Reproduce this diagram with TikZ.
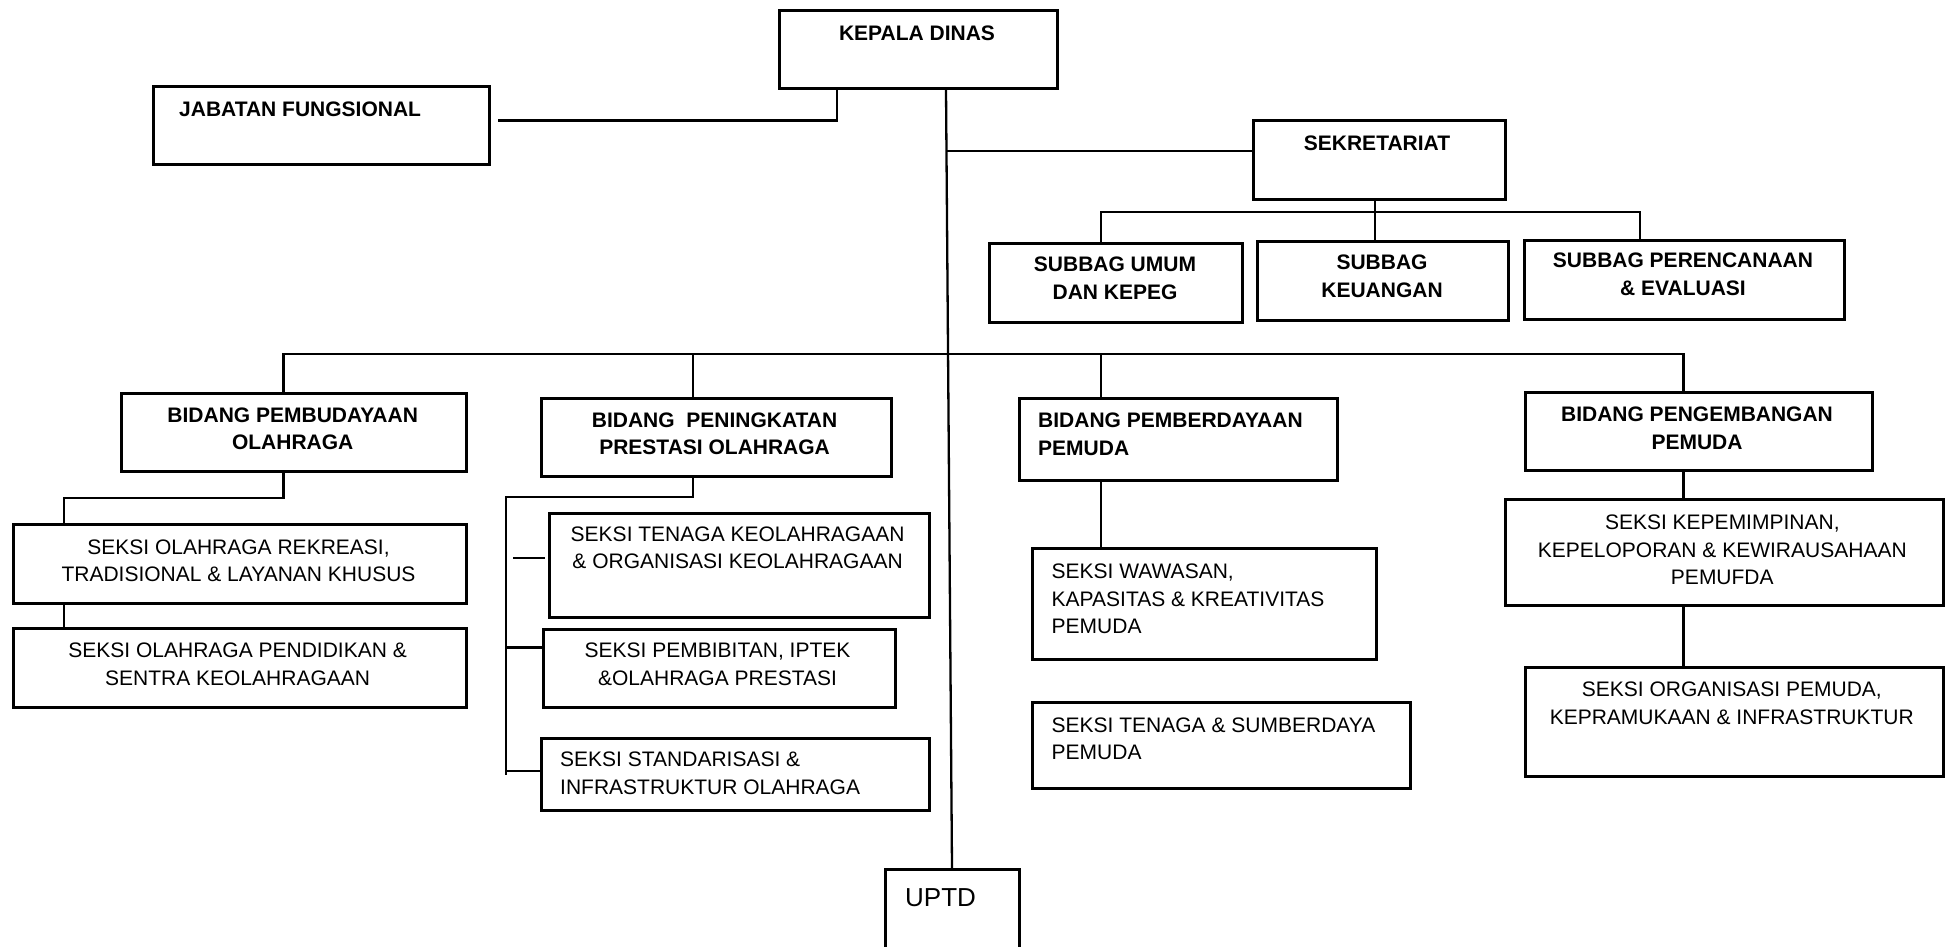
\documentclass[tikz,border=0pt]{standalone}
\usepackage{fontspec}
\setmainfont{Liberation Sans}
\usetikzlibrary{positioning, calc}

\begin{document}
\begin{tikzpicture}[x=1pt, y=-1pt]
    \tikzstyle{kotak} = [rectangle, draw=black, line width=2.8pt, anchor=north west, inner sep=0pt]
    \tikzstyle{garis} = [line width=2.3pt]
    \tikzstyle{judul} = [font=\fontsize{21}{27.5}\selectfont\bfseries, align=center, inner sep=0pt]
    \tikzstyle{isi} = [font=\fontsize{21}{27.5}\selectfont, align=center, inner sep=0pt]

    \useasboundingbox (0,0) rectangle (1950,946);

    % pimpinan dan sekretariat
    \node[kotak, minimum width=278pt, minimum height=78pt] (kadis) at (778,9) {};
    \node[kotak, minimum width=336pt, minimum height=78pt] (jafung) at (152,85) {};
    \node[kotak, minimum width=252pt, minimum height=79pt] (sekre) at (1252,119) {};
    \node[kotak, minimum width=253pt, minimum height=79pt] (umum) at (988,242) {};
    \node[kotak, minimum width=251pt, minimum height=79pt] (keuangan) at (1256,240) {};
    \node[kotak, minimum width=320pt, minimum height=79pt] (rencana) at (1523,239) {};

    % bidang
    \node[kotak, minimum width=345pt, minimum height=78pt] (bpo) at (120,392) {};
    \node[kotak, minimum width=350pt, minimum height=78pt] (bppo) at (540,397) {};
    \node[kotak, minimum width=318pt, minimum height=82pt] (bpp) at (1018,397) {};
    \node[kotak, minimum width=347pt, minimum height=78pt] (bpgp) at (1524,391) {};

    % seksi
    \node[kotak, minimum width=453pt, minimum height=79pt] (rekreasi) at (12,523) {};
    \node[kotak, minimum width=453pt, minimum height=79pt] (pendidikan) at (12,627) {};
    \node[kotak, minimum width=380pt, minimum height=104pt] (tenaga) at (548,512) {};
    \node[kotak, minimum width=352pt, minimum height=78pt] (pembibitan) at (542,628) {};
    \node[kotak, minimum width=388pt, minimum height=72pt] (standar) at (540,737) {};
    \node[kotak, minimum width=344pt, minimum height=111pt] (wawasan) at (1031,547) {};
    \node[kotak, minimum width=378pt, minimum height=86pt] (sdm) at (1031,701) {};
    \node[kotak, minimum width=438pt, minimum height=106pt] (pimpin) at (1504,498) {};
    \node[kotak, minimum width=418pt, minimum height=109pt] (organisasi) at (1524,666) {};
    \node[kotak, minimum width=134pt, minimum height=110pt] (uptd) at (884,868) {};

    % teks
    \node[judul] at (917,33.5) {KEPALA DINAS};
    \node[judul, anchor=west] at (179,109.5) {JABATAN FUNGSIONAL};
    \node[judul] at (1377,143) {SEKRETARIAT};
    \node[judul] at (1115,278.5) {SUBBAG UMUM\\DAN KEPEG};
    \node[judul] at (1382,276.5) {SUBBAG\\KEUANGAN};
    \node[judul] at (1683,274.5) {SUBBAG PERENCANAAN\\\& EVALUASI};
    \node[judul] at (292.7,428.8) {BIDANG PEMBUDAYAAN\\OLAHRAGA};
    \node[judul] at (714.6,433.7) {BIDANG\ \ PENINGKATAN\\PRESTASI OLAHRAGA};
    \node[judul, anchor=west, align=left] at (1038,434.2) {BIDANG PEMBERDAYAAN\\PEMUDA};
    \node[judul] at (1697,428.3) {BIDANG PENGEMBANGAN\\PEMUDA};
    \node[isi] at (238.5,560.8) {SEKSI OLAHRAGA REKREASI,\\TRADISIONAL \& LAYANAN KHUSUS};
    \node[isi] at (237.6,664.4) {SEKSI OLAHRAGA PENDIDIKAN \&\\SENTRA KEOLAHRAGAAN};
    \node[isi] at (737.6,548) {SEKSI TENAGA KEOLAHRAGAAN\\\& ORGANISASI KEOLAHRAGAAN};
    \node[isi] at (717.5,664.4) {SEKSI PEMBIBITAN, IPTEK\\\&OLAHRAGA PRESTASI};
    \node[isi, anchor=west, align=left] at (560,773.5) {SEKSI STANDARISASI \&\\INFRASTRUKTUR OLAHRAGA};
    \node[isi, anchor=west, align=left] at (1051.5,599.1) {SEKSI WAWASAN,\\KAPASITAS \& KREATIVITAS\\PEMUDA};
    \node[isi, anchor=west, align=left] at (1051.5,738.6) {SEKSI TENAGA \& SUMBERDAYA\\PEMUDA};
    \node[isi] at (1722.3,550) {SEKSI KEPEMIMPINAN,\\KEPELOPORAN \& KEWIRAUSAHAAN\\PEMUFDA};
    \node[isi] at (1731.8,703.2) {SEKSI ORGANISASI PEMUDA,\\KEPRAMUKAAN \& INFRASTRUKTUR};
    \node[isi, anchor=west, font=\fontsize{26}{30}\selectfont] at (905,898) {UPTD};

    % garis
    \coordinate (cabang) at (946.5,151);
    \coordinate (tulang) at (506,497);
    \draw[garis] (kadis.south -| 837,0) |- ($(jafung.east)+(7,-5)$);
    \draw[garis] (kadis.south -| 946,0) -- (uptd.north -| 952,0);
    \draw[garis] (cabang) -- (cabang -| sekre.west);
    \draw[garis] (sekre.south -| 1375,0) -- (keuangan.north -| 1375,0);
    \draw[garis] (umum.north -| 1101,0) -- (1101,212) -| (rencana.north -| 1640,0);
    \draw[garis] (bpo.north -| 283.5,0) -- (283.5,354) -| (bpgp.north -| 1683.5,0);
    \draw[garis] (bppo.north -| 693,0) -- (693,354);
    \draw[garis] (bpp.north -| 1101,0) -- (1101,354);
    \draw[garis] (bpo.south -| 283.5,0) |- (64,498) -- (rekreasi.north -| 64,0);
    \draw[garis] (rekreasi.south -| 64,0) -- (pendidikan.north -| 64,0);
    \draw[garis] (bppo.south -| 693,0) |- (tulang) -- (tulang |- 0,775);
    \draw[garis] ($(tulang |- 0,558)+(7,0)$) -- ($(tenaga.west |- 0,558)+(-3,0)$);
    \draw[garis] (tulang |- 0,647.5) -- (pembibitan.west |- 0,647.5);
    \draw[garis] (tulang |- 0,771) -- (standar.west |- 0,771);
    \draw[garis] (bpp.south -| 1101,0) -- (wawasan.north -| 1101,0);
    \draw[garis] (bpgp.south -| 1683.5,0) -- (pimpin.north -| 1683.5,0);
    \draw[garis] (pimpin.south -| 1683.5,0) -- (organisasi.north -| 1683.5,0);
\end{tikzpicture}
\end{document}
